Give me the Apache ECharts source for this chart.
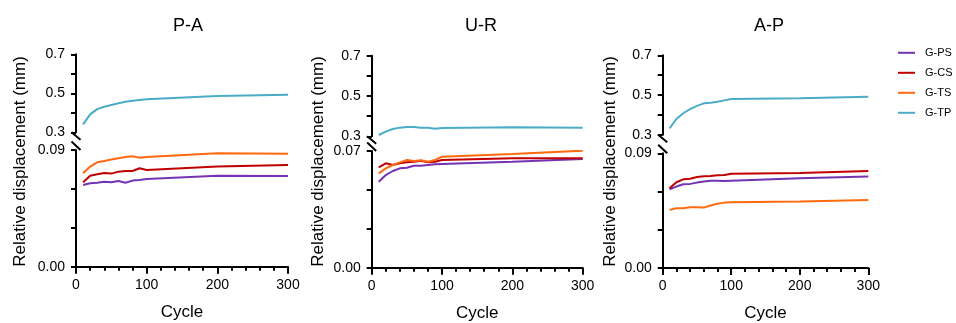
<!DOCTYPE html>
<html>
<head>
<meta charset="utf-8">
<script src="https://cdn.jsdelivr.net/npm/echarts@6/dist/echarts.min.js"></script>
<style>
html,body{margin:0;padding:0;background:#fff;}
#c{width:956px;height:323px;}
</style>
</head>
<body>
<div id="c"></div>
<script>
// ---------------- data ----------------
const cycles = [10, 20, 30, 40, 50, 60, 70, 80, 90, 100, 200, 300];
const seriesNames = ['G-PS', 'G-CS', 'G-TS', 'G-TP'];
const panelTitles = ['P-A', 'U-R', 'A-P'];

const PA_PS = [0.0630, 0.0643, 0.0648, 0.0656, 0.0651, 0.0661, 0.0648, 0.0664, 0.0669, 0.0677, 0.0702, 0.0700];
const PA_CS = [0.0651, 0.0702, 0.0713, 0.0723, 0.0718, 0.0733, 0.0738, 0.0738, 0.0759, 0.0746, 0.0772, 0.0785];
const PA_TS = [0.0721, 0.0772, 0.0805, 0.0815, 0.0826, 0.0836, 0.0846, 0.0851, 0.0841, 0.0846, 0.0875, 0.0872];
const PA_TP = [0.341, 0.392, 0.419, 0.431, 0.440, 0.449, 0.457, 0.462, 0.466, 0.469, 0.486, 0.493];

const UR_PS = [0.0516, 0.0556, 0.0580, 0.0596, 0.0600, 0.0612, 0.0612, 0.0616, 0.0620, 0.0622, 0.0636, 0.0652];
const UR_CS = [0.0602, 0.0626, 0.0616, 0.0626, 0.0632, 0.0636, 0.0642, 0.0632, 0.0636, 0.0646, 0.0656, 0.0656];
const UR_TS = [0.0566, 0.0596, 0.0616, 0.0632, 0.0646, 0.0640, 0.0644, 0.0636, 0.0646, 0.0666, 0.0682, 0.0702];
const UR_TP = [0.3065, 0.323, 0.336, 0.343, 0.346, 0.346, 0.343, 0.343, 0.338, 0.341, 0.345, 0.343];

const AP_PS = [0.0618, 0.0639, 0.0657, 0.0660, 0.0670, 0.0678, 0.0685, 0.0685, 0.0683, 0.0685, 0.0704, 0.0717];
const AP_CS = [0.0626, 0.0673, 0.0696, 0.0701, 0.0714, 0.0720, 0.0722, 0.0728, 0.0730, 0.0740, 0.0746, 0.0761];
const AP_TS = [0.0456, 0.0469, 0.0469, 0.0477, 0.0477, 0.0474, 0.0490, 0.0505, 0.0513, 0.0516, 0.0521, 0.0534];
const AP_TP = [0.332, 0.379, 0.408, 0.429, 0.445, 0.458, 0.461, 0.466, 0.473, 0.480, 0.483, 0.491];

const panelData = [
  [PA_PS, PA_CS, PA_TS, PA_TP],
  [UR_PS, UR_CS, UR_TS, UR_TP],
  [AP_PS, AP_CS, AP_TS, AP_TP]
];

// tick labels
const xTickLabels = ['0', '100', '200', '300'];
const topTickLabels = ['0.3', '0.5', '0.7'];
const bottomTickLabels = [['0.00', '0.09'], ['0.00', '0.07'], ['0.00', '0.09']];
const bottomMax = [0.09, 0.07, 0.09];
const yAxisTitle = 'Relative displacement (mm)';
const xAxisTitle = 'Cycle';

// ---------------- styles / layout ----------------
const colors = ['#7433B2', '#C00000', '#FF6A10', '#4BACC6'];
const FONT = 'Liberation Sans, Arial, Helvetica, sans-serif';
const layout = [
  { left: 76,    width: 212,   topT: 54.3, botT: 132.3, topB: 150,   botB: 266.7, titleX: 183, nameX: 20.5 },
  { left: 371.7, width: 211,   topT: 55.7, botT: 136.3, topB: 151,   botB: 267.7, titleX: 476, nameX: 318 },
  { left: 662.7, width: 205.6, topT: 55.3, botT: 134.7, topB: 153.3, botB: 268.3, titleX: 764, nameX: 610.5 }
];

const grids = [], xAxes = [], yAxes = [], series = [], graphics = [], titles = [];
const axisLine = { show: true, lineStyle: { color: '#000', width: 2 } };

layout.forEach((L, p) => {
  grids.push({ left: L.left, width: L.width, top: L.topT, height: L.botT - L.topT, containLabel: false });
  grids.push({ left: L.left, width: L.width, top: L.topB, height: L.botB - L.topB, containLabel: false });
  const gT = 2 * p, gB = 2 * p + 1;

  xAxes.push({ gridIndex: gT, type: 'value', min: 0, max: 300, interval: 100, show: false });
  xAxes.push({
    gridIndex: gB, type: 'value', min: 0, max: 300, interval: 100,
    axisLine: axisLine,
    axisTick: { show: true, length: 7, lineStyle: { color: '#000', width: 2 } },
    minorTick: { show: true, splitNumber: 5, length: 4, lineStyle: { color: '#000', width: 2 } },
    splitLine: { show: false },
    axisLabel: {
      color: '#000', fontSize: 14, fontFamily: FONT, margin: 11,
      formatter: v => xTickLabels.includes(String(Math.round(v))) ? String(Math.round(v)) : ''
    },
    name: xAxisTitle, nameLocation: 'middle', nameGap: 37,
    nameTextStyle: { color: '#000', fontSize: 17, fontFamily: FONT }
  });

  yAxes.push({
    gridIndex: gT, type: 'value', min: 0.3, max: 0.7, interval: 0.1,
    axisLine: axisLine,
    axisTick: { show: true, length: 5, lineStyle: { color: '#000', width: 2 } },
    splitLine: { show: false },
    axisLabel: {
      color: '#000', fontSize: 14, fontFamily: FONT, margin: 11,
      formatter: v => topTickLabels.includes(v.toFixed(1)) ? v.toFixed(1) : ''
    }
  });
  const bMax = bottomMax[p];
  yAxes.push({
    gridIndex: gB, type: 'value', min: 0, max: bMax, interval: bMax / 3,
    axisLine: axisLine,
    axisTick: { show: true, length: 5, lineStyle: { color: '#000', width: 2 } },
    splitLine: { show: false },
    axisLabel: {
      color: '#000', fontSize: 14, fontFamily: FONT, margin: 11,
      formatter: v => bottomTickLabels[p].includes(v.toFixed(2)) ? v.toFixed(2) : ''
    }
  });

  const data = panelData[p];
  [0, 1, 2].forEach(k => {
    series.push({
      name: seriesNames[k], type: 'line', xAxisIndex: gB, yAxisIndex: gB,
      data: cycles.map((c, i) => [c, data[k][i]]),
      showSymbol: false, symbol: 'none',
      lineStyle: { width: 2, color: colors[k] }, itemStyle: { color: colors[k] }
    });
  });
  series.push({
    name: seriesNames[3], type: 'line', xAxisIndex: gT, yAxisIndex: gT,
    data: cycles.map((c, i) => [c, data[3][i]]),
    showSymbol: false, symbol: 'none',
    lineStyle: { width: 2, color: colors[3] }, itemStyle: { color: colors[3] }
  });

  titles.push({
    text: panelTitles[p], left: L.titleX, top: 12, textAlign: 'center',
    textStyle: { color: '#000', fontSize: 18, fontWeight: 'normal', fontFamily: FONT }
  });

  graphics.push({
    type: 'line', silent: true,
    shape: { x1: L.left - 4.5, y1: L.botT, x2: L.left + 4.5, y2: L.botT + 7.5 },
    style: { stroke: '#000', lineWidth: 2 }
  });
  graphics.push({
    type: 'line', silent: true,
    shape: { x1: L.left - 4.5, y1: L.topB - 8.5, x2: L.left + 4.5, y2: L.topB },
    style: { stroke: '#000', lineWidth: 2 }
  });
  graphics.push({
    type: 'text', silent: true, x: L.nameX, y: 161.5, rotation: Math.PI / 2,
    style: { text: yAxisTitle, fill: '#000', font: '17px ' + FONT, align: 'center', verticalAlign: 'middle' }
  });
});

const chart = echarts.init(document.getElementById('c'), null, { renderer: 'canvas' });
chart.setOption({
  animation: false,
  backgroundColor: '#fff',
  textStyle: { fontFamily: FONT },
  title: titles,
  legend: {
    data: seriesNames, orient: 'vertical', left: 898, top: 42.8, padding: 0,
    icon: 'rect', itemWidth: 17, itemHeight: 2, itemGap: 0,
    textStyle: { color: '#000', fontSize: 11, lineHeight: 20, fontFamily: FONT, padding: [0, 0, 0, 5] }
  },
  grid: grids,
  xAxis: xAxes,
  yAxis: yAxes,
  series: series,
  graphic: graphics
});
</script>
</body>
</html>
